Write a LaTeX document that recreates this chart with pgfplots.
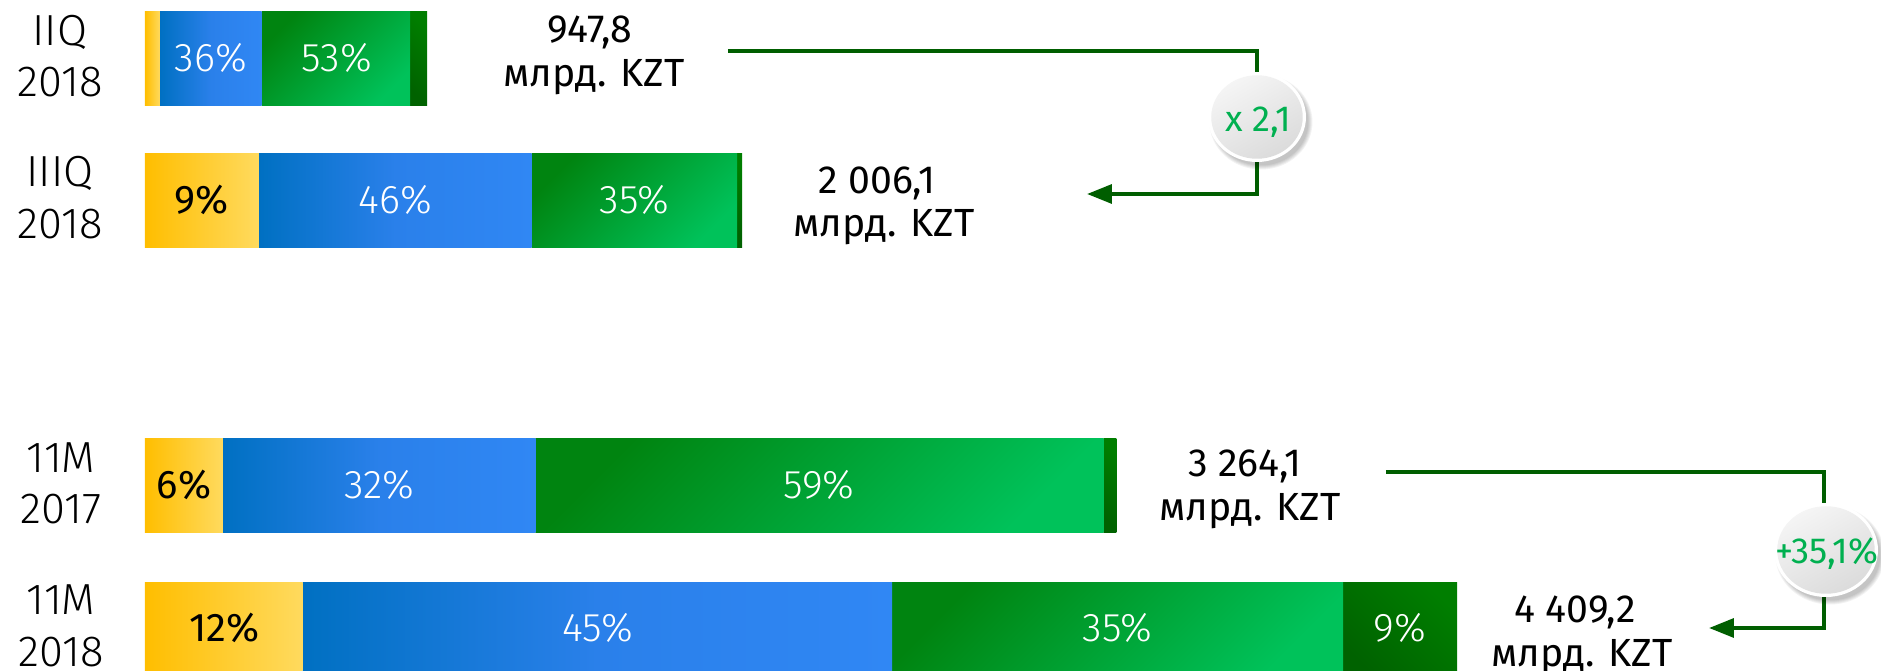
\documentclass[border=0pt]{standalone}
\usepackage{fontspec}
\setmainfont{Fira Sans Light}
\IfFontExistsTF{Fira Sans Book}{\newfontfamily\regfont{Fira Sans Book}}{\newfontfamily\regfont{Fira Sans}}
\usepackage{pgfplots}
\pgfplotsset{compat=1.18}
\usetikzlibrary{arrows.meta}
\definecolor{ylL}{HTML}{FFBE00}
\definecolor{ylR}{HTML}{FFDA5E}
\definecolor{blL}{HTML}{0070C2}
\definecolor{blM}{HTML}{2A80EA}
\definecolor{blR}{HTML}{3087F4}
\definecolor{grA}{HTML}{008410}
\definecolor{grB}{HTML}{00C25A}
\definecolor{dgA}{HTML}{006200}
\definecolor{dgB}{HTML}{007E00}
\definecolor{lineG}{HTML}{005E00}
\definecolor{txtG}{HTML}{00B050}
\pgfplotsset{
  rowaxis/.style={at={(0,0)}, anchor=south west, scale only axis,
    width=752.4pt, height=268pt,
    xmin=-487.2, xmax=5833.3, ymin=0, ymax=670, y dir=reverse,
    xbar stacked, bar width=94, hide axis},
  sY/.style={draw=none, left color=ylL, right color=ylR},
  sB/.style={draw=none, left color=blL, right color=blR, middle color=blM},
  sG/.style={draw=none, top color=grA, bottom color=grB, shading angle=45},
  sD/.style={draw=none, top color=dgB, bottom color=dgA, shading angle=-45},
}
\begin{document}
\begin{tikzpicture}
\path[use as bounding box] (0,0) rectangle (752.4pt,268pt);
\clip (0,0) rectangle (752.4pt,268pt);
% segments in bln KZT (one axis per row so that each bar gets its own gradient)
% IIQ 2018: total 947,8
\begin{axis}[rowaxis]
\addplot[sY] coordinates {(50.2,58.5)};
\addplot[sB] coordinates {(341.6,58.5)};
\addplot[sG] coordinates {(499.1,58.5)};
\addplot[sD] coordinates {(56.9,58.5)};
\end{axis}
% IIIQ 2018: total 2006,1
\begin{axis}[rowaxis]
\addplot[sY] coordinates {(382.8,200.5)};
\addplot[sB] coordinates {(916.6,200.5)};
\addplot[sG] coordinates {(690.0,200.5)};
\addplot[sD] coordinates {(16.7,200.5)};
\end{axis}
% 11M 2017: total 3264,1
\begin{axis}[rowaxis]
\addplot[sY] coordinates {(261.3,485.5)};
\addplot[sB] coordinates {(1050.1,485.5)};
\addplot[sG] coordinates {(1909.0,485.5)};
\addplot[sD] coordinates {(43.7,485.5)};
\end{axis}
% 11M 2018: total 4409,2
\begin{axis}[rowaxis]
\addplot[sY] coordinates {(530.0,629)};
\addplot[sB] coordinates {(1980.4,629)};
\addplot[sG] coordinates {(1515.7,629)};
\addplot[sD] coordinates {(383.1,629)};
\end{axis}
\begin{scope}[x=0.4pt, y=-0.4pt, yshift=268pt]
\tikzset{
  cat/.style={anchor=base, inner sep=0pt, font=\fontsize{17.4}{20}\selectfont},
  val/.style={anchor=base, inner sep=0pt, font=\regfont\fontsize{15.7}{18}\selectfont},
  pw/.style={anchor=base, inner sep=0pt, text=white, font=\fontsize{16}{18}\selectfont},
  pb/.style={anchor=base, inner sep=0pt, text=black, font=\regfont\fontsize{16}{18}\selectfont},
  ct/.style={anchor=base, inner sep=0pt, text=txtG, font=\regfont\fontsize{14.5}{16}\selectfont}
}
% category labels
\node[cat] at (60,46) {IIQ};   \node[cat] at (60,97) {2018};
\node[cat] at (60,187) {IIIQ}; \node[cat] at (60,239) {2018};
\node[cat] at (61,473) {11M};  \node[cat] at (61,524) {2017};
\node[cat] at (61,615) {11M};  \node[cat] at (61,667) {2018};
% totals
\node[val] at (590,43) {947,8};   \node[val] at (594,87) {млрд. KZT};
\node[val] at (877,194) {2 006,1}; \node[val] at (884,237) {млрд. KZT};
\node[val] at (1245,477) {3 264,1}; \node[val] at (1250,521) {млрд. KZT};
\node[val] at (1575,623) {4 409,2}; \node[val] at (1582,667) {млрд. KZT};
% percentages
\node[pw] at (211,72) {36\%}; \node[pw] at (336.5,72) {53\%};
\node[pb] at (202,214) {9\%}; \node[pw] at (395.5,214) {46\%}; \node[pw] at (634.5,214) {35\%};
\node[pb] at (184,499) {6\%}; \node[pw] at (379,499) {32\%}; \node[pw] at (819,499) {59\%};
\node[pb] at (224.5,642) {12\%}; \node[pw] at (598,642) {45\%}; \node[pw] at (1117.5,642) {35\%}; \node[pw] at (1400,642) {9\%};
% connectors
\draw[lineG, line width=1.6pt] (728,51) -- (1257,51) -- (1257,117);
\draw[lineG, line width=1.6pt, -{Triangle[length=10pt,width=7.5pt]}] (1257,117) -- (1257,194) -- (1087,194);
\draw[lineG, line width=1.6pt] (1386,472) -- (1824,472) -- (1824,550);
\draw[lineG, line width=1.6pt, -{Triangle[length=10pt,width=7.5pt]}] (1824,550) -- (1824,628) -- (1709,628);
% badges
\foreach \cx/\cy/\rx/\ry in {1257/117/19.6/18.0, 1826/550/20.8/18.8}{
  \foreach \k in {1,...,5}{
    \fill[black, opacity=0.05] (\cx+4,\cy+5) ellipse [x radius=\rx pt+0.4pt*\k-1pt, y radius=\ry pt+0.4pt*\k-1pt];
  }
  \fill[white] (\cx,\cy) ellipse [x radius=\rx pt, y radius=\ry pt];
  \shade[top color=white!96!black, bottom color=black!14, shading angle=30] (\cx,\cy) ellipse [x radius=\rx pt-1.3pt, y radius=\ry pt-1.3pt];
}
\node[ct] at (1258,132) {x 2,1};
\node[ct] at (1827,564) {+35,1\%};
\end{scope}
\end{tikzpicture}
\end{document}
